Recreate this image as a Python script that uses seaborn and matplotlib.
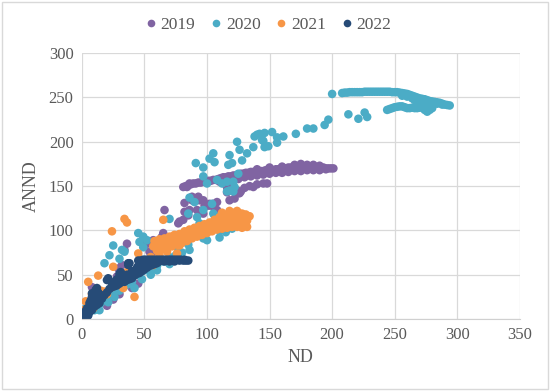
import pandas as pd
import matplotlib.pyplot as plt
import seaborn as sns
from matplotlib.patches import Rectangle

# DATA

nd_2019 = [81, 83, 85, 87, 89, 91, 93, 95, 97, 99, 101, 103, 105, 107, 109, 111, 113, 115, 117, 119,
           121, 123, 125, 127, 129, 131, 133, 135, 137, 139, 141, 143, 145, 147, 149, 151, 153, 155, 157, 159,
           161, 163, 165, 167, 169, 171, 173, 175, 177, 179, 181, 183, 185, 187, 189, 191, 193, 195, 197, 199, 201,
           110, 115, 120, 125, 130, 135, 140, 145, 150, 155, 160, 165, 170, 175, 180, 185, 190, 195,
           140, 150, 160, 170, 175, 180, 185, 190,
           121, 123, 125, 127, 130, 134, 137, 140, 145, 148, 118, 116,
           82, 88, 94, 98, 102, 108, 106, 66, 84, 92, 97, 116, 118, 122, 116, 78, 81, 86, 96, 102,
           57, 52, 36, 34, 57, 32, 29, 64, 54, 8, 10, 28, 32, 65, 82, 85, 77, 94, 100, 105, 108, 108,
           93, 97, 88, 84, 86, 126, 121, 124,
           20, 25, 30, 40, 45, 14, 18, 5, 12]
annd_2019 = [149, 150, 151, 152, 153, 153, 154, 154, 155, 155, 156, 156, 157, 157, 158, 159, 160, 160, 161, 161,
             162, 162, 163, 164, 164, 165, 165, 166, 166, 166, 167, 167, 167, 168, 168, 168, 168, 169, 169, 170,
             170, 170, 171, 171, 171, 172, 172, 172, 172, 172, 172, 172, 172, 171, 171, 171, 171, 170, 170, 170, 170,
             155, 156, 157, 158, 160, 161, 162, 163, 164, 165, 165, 166, 167, 167, 168, 168, 168, 169,
             169, 171, 172, 174, 175, 174, 174, 173,
             149, 145, 142, 144, 148, 150, 149, 152, 153, 153, 150, 149,
             131, 134, 134, 128, 130, 132, 125, 123, 121, 123, 119, 143, 134, 136, 149, 110, 112, 123, 121, 128,
             89, 85, 85, 78, 76, 61, 57, 93, 76, 36, 32, 48, 44, 97, 121, 117, 108, 121, 128, 130, 123, 117,
             138, 134, 138, 149, 153, 142, 149, 145,
             15, 22, 28, 35, 40, 25, 30, 8, 18]

nd_2020 = [200, 208, 210, 212, 214, 216, 218, 220, 222, 224, 226, 228, 230, 232, 234, 236, 238, 240, 242, 244,
           246, 248, 250, 252, 254, 256, 258, 260, 262, 264, 266, 268, 270, 272, 274, 276, 278, 280, 282, 284,
           286, 288, 290, 292, 294,
           256, 260, 264, 268, 272, 276, 280, 284, 288, 266, 270,
           244, 246, 248, 250, 252, 254, 256, 258, 260, 262, 264, 266, 268, 270, 272, 274, 276, 278, 280, 275, 270, 278,
           213, 221, 226, 228, 194, 197, 124, 138, 142, 146, 152, 156, 161, 156, 145, 171, 180, 185, 137, 126, 146, 149,
           91, 97, 102, 105, 106, 118, 117, 120, 132, 128, 140, 144, 108, 112, 116, 121, 122, 118, 116, 121, 125,
           86, 90, 97, 106,
           45, 25, 32, 34, 30, 18, 22, 49, 52, 46, 49, 70, 61, 64, 97, 100, 92, 94, 85, 105, 108, 84, 92, 76, 86,
           21, 26, 104, 97, 100, 17, 14, 28, 14,
           5, 10, 15, 20, 25, 30, 35, 40, 45, 50, 55, 60, 65, 70, 75, 80, 3, 8, 12, 16, 38, 42, 48, 55,
           60, 70, 85, 95, 110, 115, 120, 110]
annd_2020 = [254, 255, 255.5, 255.5, 256, 256, 256, 256, 256, 256, 256.5, 256.5, 256.5, 256.5, 256.5, 256.5, 256.5, 256.5, 256.5, 256.5,
             256.5, 256, 256, 256, 255.5, 255, 254.5, 254, 253, 252, 251, 250, 249, 248.5, 248, 247, 246, 245.5, 245, 244.5,
             244, 243, 242, 241.5, 241,
             252, 251, 249, 248, 246, 245, 244, 243, 242, 247, 246,
             236, 237, 238, 239, 239.5, 240, 240, 239, 238, 238, 238.5, 238, 238, 238.5, 239, 236, 234, 236, 238, 240, 242, 241,
             231, 226, 233, 228, 219, 225, 200, 206, 209, 210, 211, 205, 206, 199, 201, 209, 215, 215, 194, 191, 194, 195,
             176, 171, 181, 187, 177, 185, 174, 176, 187, 179, 208, 202, 157, 153, 155, 155, 149, 145, 144, 144, 164,
             137, 132, 123, 117,
             97, 83, 78, 76, 68, 63, 72, 93, 89, 87, 81, 113, 87, 83, 161, 153, 115, 108, 119, 119, 115, 93, 95, 81, 78,
             19, 25, 130, 91, 89, 25, 17, 40, 10,
             5, 10, 18, 22, 30, 32, 38, 42, 50, 55, 58, 60, 65, 70, 72, 75, 12, 20, 28, 30, 40, 35, 45, 50,
             55, 62, 84, 95, 100, 98, 102, 92]

nd_2021 = [57, 60, 63, 66, 69, 72, 75, 78, 81, 84, 87, 90, 93, 96, 99, 102, 105, 108, 111, 114, 117, 120, 123, 126, 129, 132,
           58, 62, 66, 70, 74, 78, 82, 86, 90, 94, 98, 102, 106, 110, 113, 116, 119, 122, 125, 128, 131, 134, 112, 118, 124,
           60, 64, 68, 72, 76, 80, 84, 88, 92, 96, 100, 104, 108, 112, 116, 120, 124, 128, 132, 126, 118, 130, 122,
           34, 36, 24, 65, 45, 60, 69, 72, 65, 46, 5, 13, 25, 36, 38, 1, 4, 6, 12, 18, 24, 42, 49, 57, 76,
           30, 28, 20, 14, 9, 40, 44, 50, 55, 62, 68, 78, 33, 15, 8, 3]
annd_2021 = [82, 84, 85, 86, 87, 88, 89, 91, 93, 95, 96, 98, 99, 101, 103, 104, 106, 107, 109, 110, 111, 112, 112, 112, 112, 111,
             88, 90, 91, 93, 95, 96, 99, 101, 103, 105, 107, 109, 112, 115, 117, 118, 119, 120, 120, 119, 118, 116, 120, 122, 122,
             77, 79, 81, 82, 84, 86, 88, 91, 93, 95, 97, 99, 101, 102, 103, 104, 104, 103, 104, 106, 106, 108, 108,
             113, 109, 99, 112, 74, 81, 89, 93, 83, 63, 42, 49, 59, 53, 51, 10, 6, 14, 19, 31, 36, 25, 66, 61, 74,
             45, 40, 28, 22, 12, 48, 55, 58, 70, 72, 76, 83, 35, 32, 28, 20]

nd_2022 = [0, 0.5, 1, 1, 2, 2, 3, 3, 4, 4, 5, 6, 6, 7, 7, 8, 8, 8, 9, 10, 10, 11, 12, 13, 14, 15, 16, 18, 20, 22,
           24, 26, 28, 30, 32, 34, 36, 38, 40, 42, 44, 46, 48, 50, 52, 54, 56, 58, 60, 31, 33, 37, 37, 38, 31, 30,
           21, 20, 9, 26, 28, 35, 40, 44, 48, 52, 56, 5, 3, 6, 8, 10, 12, 14,
           32, 36, 40, 44, 42, 38, 34, 46, 50, 28, 24, 30,
           45, 47, 49, 51, 53, 55, 57, 59, 61, 63, 65, 67, 69, 71, 73, 75, 77, 79, 81, 83, 85,
           46, 50, 54, 58, 62, 66, 70, 74, 49, 53, 45, 78, 82]
annd_2022 = [0, 1, 2, 4, 3, 6, 5, 9, 8, 12, 11, 14, 18, 16, 21, 20, 25, 29, 27, 21, 30, 33, 35, 30, 28, 24, 23, 27, 30, 34,
             36, 37, 38, 40, 42, 42, 44, 45, 46, 49, 51, 52, 54, 56, 58, 60, 61, 62, 63, 47, 50, 61, 63, 63, 53, 51,
             46, 44, 27, 42, 45, 47, 51, 56, 60, 62, 64, 4, 2, 8, 10, 14, 16, 18,
             46, 50, 54, 58, 52, 48, 44, 55, 60, 42, 40, 44,
             66, 66, 67, 67, 67, 67, 67, 67, 67, 67, 67, 67, 67, 67, 67, 67, 67, 67, 66, 66, 66,
             63, 63, 64, 65, 65, 65, 65, 65, 59, 60, 60, 66, 67]

years = ['2019', '2020', '2021', '2022']
colors = ['#8064A2', '#4BACC6', '#F79646', '#264B77']

df = pd.concat([
    pd.DataFrame({'ND': nd_2019, 'ANND': annd_2019, 'year': '2019'}),
    pd.DataFrame({'ND': nd_2020, 'ANND': annd_2020, 'year': '2020'}),
    pd.DataFrame({'ND': nd_2021, 'ANND': annd_2021, 'year': '2021'}),
    pd.DataFrame({'ND': nd_2022, 'ANND': annd_2022, 'year': '2022'}),
], ignore_index=True)

# PLOT

sns.set_style("white")
plt.rcParams['font.family'] = ['Liberation Serif', 'DejaVu Serif']

fig = plt.figure(figsize=(5.5, 3.91), dpi=100)
ax = fig.add_axes([0.149, 0.184, 0.796, 0.68])

sns.scatterplot(data=df, x='ND', y='ANND', hue='year', hue_order=years,
                palette=colors, s=38, linewidth=0, alpha=1, ax=ax, legend=False)

ax.set_xlim(0, 350)
ax.set_ylim(0, 300)
ax.set_xticks(range(0, 351, 50))
ax.set_yticks(range(0, 301, 50))
ax.grid(True, color='#D9D9D9', linewidth=0.9)
ax.set_axisbelow(True)
for side in ['top', 'right', 'left']:
    ax.spines[side].set_visible(False)
ax.spines['bottom'].set_color('#D0D0D0')
ax.tick_params(length=0, labelsize=12, colors='#595959', pad=6)
ax.set_xlabel('ND', fontsize=13, color='#595959', labelpad=4)
ax.set_ylabel('ANND', fontsize=13, color='#595959', labelpad=6)

handles = [plt.Line2D([], [], marker='o', linestyle='', markersize=5.5,
                      markerfacecolor=c, markeredgewidth=0) for c in colors]
fig.legend(handles, years, loc='center', bbox_to_anchor=(0.485, 0.935), ncol=4,
           frameon=False, fontsize=12.5, handletextpad=0.05, columnspacing=0.7,
           handlelength=1.0, labelcolor='#595959')

fig.patches.append(Rectangle((0.004, 0.004), 0.992, 0.992, transform=fig.transFigure,
                             fill=False, edgecolor='#D9D9D9', linewidth=1))

plt.savefig("out.png", dpi=100)
plt.close()
